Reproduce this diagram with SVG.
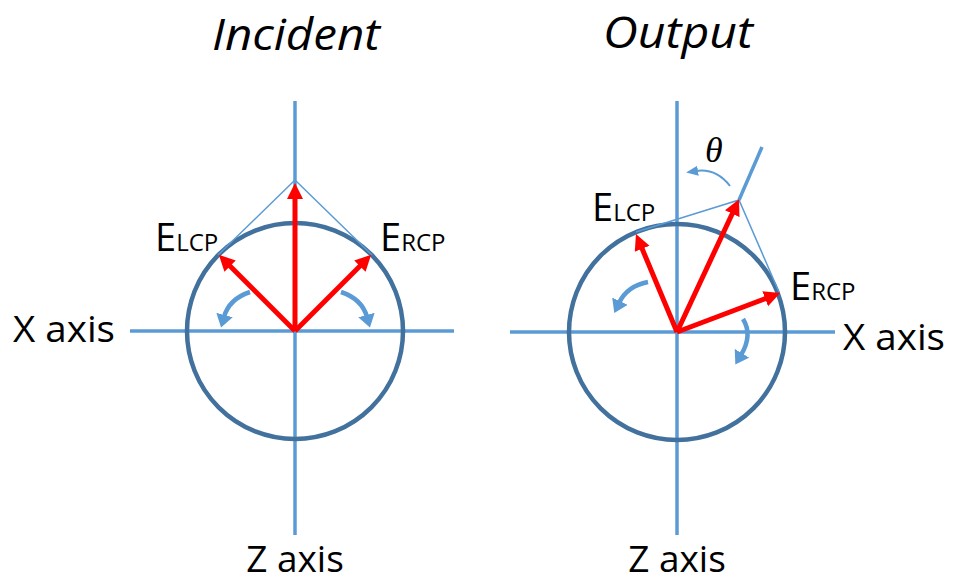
<svg xmlns="http://www.w3.org/2000/svg" width="953" height="583" viewBox="0 0 953 583">
  <defs>
    <style>
      .axis { stroke: #5B9BD5; stroke-width: 3.5; fill: none; }
      .circ { stroke: #41719C; stroke-width: 4.5; fill: none; }
      .thin { stroke: #5B9BD5; stroke-width: 1.5; fill: none; }
      .red { stroke: #FF0000; stroke-width: 5; fill: none; marker-end: url(#redHead); }
      .curv { stroke: #5B9BD5; stroke-width: 4.5; fill: none; marker-end: url(#blueHead); }
      .thetaArr { stroke: #5B9BD5; stroke-width: 2; fill: none; marker-end: url(#smallHead); }
      .lbl { font-family: "Open Sans", "Liberation Sans", sans-serif; fill: #000; }
      .title { font-family: "Open Sans", "Liberation Sans", sans-serif; font-style: italic; font-size: 44px; fill: #000; }
      .ax { font-size: 37px; }
      .big { font-size: 38px; }
      .sub { font-size: 24px; }
      .theta { font-family: "Liberation Serif", "DejaVu Serif", serif; font-style: italic; font-size: 36px; fill: #000; }
    </style>
    <marker id="redHead" markerUnits="userSpaceOnUse" markerWidth="17" markerHeight="17" refX="3" refY="8" orient="auto">
      <path d="M0,0 L16,8 L0,16 z" fill="#FF0000"/>
    </marker>
    <marker id="blueHead" markerUnits="userSpaceOnUse" markerWidth="16" markerHeight="18" refX="2" refY="8.5" orient="auto">
      <path d="M0,0 L13,8.5 L0,17 z" fill="#5B9BD5"/>
    </marker>
    <marker id="smallHead" markerUnits="userSpaceOnUse" markerWidth="14" markerHeight="12" refX="2" refY="5" orient="auto">
      <path d="M0,0 L12,5 L0,10 z" fill="#5B9BD5"/>
    </marker>
  </defs>
  <rect width="953" height="583" fill="#FFFFFF"/>

  <g id="titles">
    <text class="title" x="212" y="50" textLength="168" lengthAdjust="spacingAndGlyphs">Incident</text>
    <text class="title" x="603" y="48" textLength="150" lengthAdjust="spacingAndGlyphs">Output</text>
  </g>

  <g id="incident">
    <line class="axis" x1="295" y1="101" x2="295" y2="535"/>
    <line class="axis" x1="130" y1="331" x2="454" y2="331"/>
    <circle class="circ" cx="295" cy="331" r="108"/>
    <polyline class="thin" points="218,255 295,180 372,255"/>
    <line class="red" x1="295" y1="331" x2="295" y2="196"/>
    <line class="red" x1="295" y1="331" x2="228" y2="264"/>
    <line class="red" x1="295" y1="331" x2="362" y2="264"/>
    <path class="curv" d="M250,292 Q229,299 224,317"/>
    <path class="curv" d="M341,292 Q362,299 367,317"/>
    <text class="lbl big" x="155" y="251">E<tspan class="sub">LCP</tspan></text>
    <text class="lbl big" x="380" y="251">E<tspan class="sub">RCP</tspan></text>
    <text class="lbl ax" x="13" y="342" textLength="102" lengthAdjust="spacingAndGlyphs">X axis</text>
    <text class="lbl ax" x="295" y="572" text-anchor="middle">Z axis</text>
  </g>

  <g id="output">
    <line class="axis" x1="677" y1="101" x2="677" y2="535"/>
    <line class="axis" x1="510" y1="332" x2="835" y2="332"/>
    <circle class="circ" cx="677" cy="332" r="108"/>
    <line class="axis" x1="739" y1="200" x2="762" y2="147"/>
    <polyline class="thin" points="636,232 739,200 779,292"/>
    <line class="red" x1="677" y1="332" x2="641" y2="246"/>
    <line class="red" x1="677" y1="332" x2="733.5" y2="211"/>
    <line class="red" x1="677" y1="332" x2="768" y2="297.6"/>
    <path class="curv" d="M648,282 Q627,286 619,303"/>
    <path class="curv" d="M743,319 Q753,335 741,355"/>
    <path class="thetaArr" d="M730,186 Q716,168 696,171"/>
    <text class="theta" x="705" y="162">θ</text>
    <text class="lbl big" x="592" y="221">E<tspan class="sub">LCP</tspan></text>
    <text class="lbl big" x="790" y="300">E<tspan class="sub">RCP</tspan></text>
    <text class="lbl ax" x="843" y="350" textLength="102" lengthAdjust="spacingAndGlyphs">X axis</text>
    <text class="lbl ax" x="677" y="572" text-anchor="middle">Z axis</text>
  </g>
</svg>
